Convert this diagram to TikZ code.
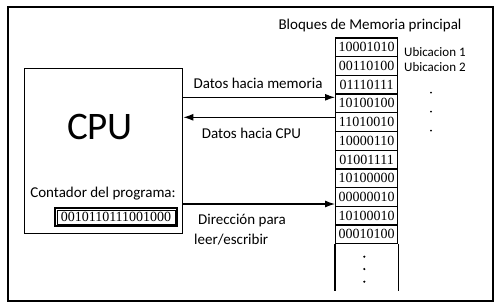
\documentclass[tikz,border=0pt]{standalone}
\usepackage{fontspec}
\setmainfont{Liberation Serif}
\newfontfamily\calib{Carlito}
\usetikzlibrary{arrows.meta}
\tikzset{
  lbl/.style={font=\calib\fontsize{15}{17}\selectfont, inner sep=0pt},
  smlbl/.style={font=\calib\fontsize{13}{15}\selectfont, inner sep=0pt, anchor=west},
  cell/.style={draw, line width=1.3pt, minimum width=62pt, minimum height=18.7pt, inner sep=0pt,
    font=\fontsize{14}{16}\selectfont, anchor=north west},
  conn/.style={line width=1.1pt, -{Latex[length=10pt,width=7pt]}},
  dot/.style={circle, fill=black, inner sep=0pt, minimum size=2.4pt},
}
\begin{document}
\begin{tikzpicture}[x=1pt,y=-1pt]
\useasboundingbox (0,0) rectangle (498,306);
\draw[line width=2.2pt] (8,7) rectangle (493,301);
% CPU
\node[draw, line width=1.4pt, minimum width=158pt, minimum height=164.7pt, anchor=north west, inner sep=0pt] (cpu) at (24,68) {};
\node[font=\calib\fontsize{39}{40}\selectfont, inner sep=0pt] (cputxt) at (100,127) {CPU};
\node[lbl] (cont) at (103,194) {Contador del programa:};
\node[draw, line width=1.5pt, minimum width=122pt, minimum height=18pt, inner sep=0pt,
  font=\fontsize{14}{16}\selectfont] (pc) at (116,217) {0010110111001000};
\draw[line width=0.7pt] ([shift={(2.6,2.6)}]pc.north west) rectangle ([shift={(-2.6,-2.6)}]pc.south east);
% Memory
\node[lbl] (title) at (370,25) {Bloques de Memoria principal};
\foreach \v [count=\i from 0] in {10001010,00110100,01110111,10100100,11010010,10000110,01001111,10100000,00000010,10100010,00010100}{
  \node[cell] (m\i) at (335,37.3+18.7*\i) {\v};
}
\draw[line width=1.3pt] (m10.south west) -- ++(0,47);
\draw[line width=1.3pt] (m10.south east) -- ++(0,47);
\node[dot] (d1) at (364.3,256.7) {};
\node[dot] (d2) at (364.3,269) {};
\node[dot] (d3) at (364.3,281.7) {};
\node[smlbl] (u1) at (404,52.3) {Ubicacion 1};
\node[smlbl] (u2) at (404,66.7) {Ubicacion 2};
\node[dot, minimum size=2pt] (r1) at (431,92.7) {};
\node[dot, minimum size=2pt] (r2) at (431,111.7) {};
\node[dot, minimum size=2pt] (r3) at (431,130.7) {};
% connectors
\coordinate (a1s) at (cpu.east |- 0,97.3);
\coordinate (a1e) at (m3.west |- 0,97.3);
\coordinate (a2s) at (m4.west |- 0,117.3);
\coordinate (a2e) at (cpu.east |- 0,117.3);
\coordinate (a3s) at (cpu.east |- 0,204);
\coordinate (a3e) at (m8.west |- 0,204);
\draw[conn] (a1s) -- (a1e);
\draw[conn] (a2s) -- (a2e);
\draw[conn] (a3s) -- (a3e);
\node[lbl] (l1) at (258,83.3) {Datos hacia memoria};
\node[lbl] (l2) at (251.5,133.3) {Datos hacia CPU};
\node[lbl, anchor=west] (l3) at (198,220.7) {Dirección para};
\node[lbl, anchor=west] (l4) at (194,239.3) {leer/escribir};
\end{tikzpicture}
\end{document}
